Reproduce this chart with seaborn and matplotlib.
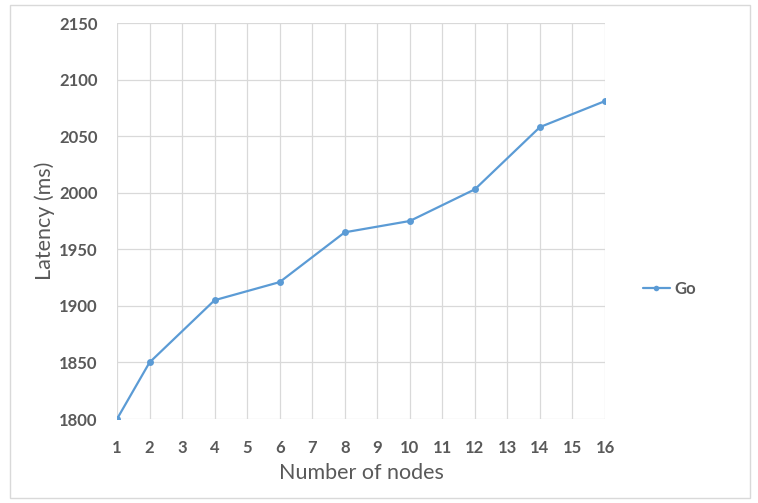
import matplotlib
matplotlib.use("Agg")
import matplotlib.pyplot as plt
import seaborn as sns
import pandas as pd
from matplotlib.patches import Rectangle
from matplotlib.lines import Line2D

nodes = [1, 2, 4, 6, 8, 10, 12, 14, 16]
latency = [1800, 1850, 1905, 1921, 1965, 1975, 2003, 2058, 2081]
x_ticks = list(range(1, 17))
y_ticks = [1800, 1850, 1900, 1950, 2000, 2050, 2100, 2150]
series_name = "Go"

sns.set_theme(style="white")
plt.rcParams["font.family"] = ["Lato", "DejaVu Sans"]

df = pd.DataFrame({"nodes": nodes, "latency": latency, "series": series_name})

fig = plt.figure(figsize=(7.58, 5.03), dpi=100)
ax = fig.add_axes([117 / 758, 1 - 419 / 503, (605 - 117) / 758, (419 - 23) / 503])

color = "#5B9BD5"
sns.lineplot(data=df, x="nodes", y="latency", ax=ax, color=color, marker="o",
             markersize=5, markeredgewidth=0, linewidth=1.6, legend=False)

ax.set_xlim(1, 16)
ax.set_ylim(1800, 2150)
ax.set_xticks(x_ticks)
ax.set_yticks(y_ticks)
ax.grid(True, color="#D9D9D9", linewidth=0.9)
ax.set_axisbelow(True)
for s in ax.spines.values():
    s.set_visible(False)
ax.tick_params(axis="both", length=0, labelsize=12, labelcolor="#595959")
ax.tick_params(axis="x", pad=15)
ax.tick_params(axis="y", pad=14)
for lab in ax.get_xticklabels() + ax.get_yticklabels():
    lab.set_fontweight("bold")
ax.set_xlabel("Number of nodes", fontsize=15.5, color="#595959", labelpad=5)
ax.set_ylabel("Latency (ms)", fontsize=15.5, color="#595959", labelpad=3)

handle = Line2D([], [], color=color, marker="o", markersize=4, markeredgewidth=0, linewidth=1.6)
leg = fig.legend([handle], [series_name], loc="center left",
                 bbox_to_anchor=(628 / 758, 1 - 289 / 503), frameon=False,
                 handlelength=1.6, handletextpad=0.3, prop={"size": 12, "weight": "bold"})
for t in leg.get_texts():
    t.set_color("#595959")

fig.patches.append(Rectangle((10 / 758, 5 / 503), 740 / 758, 493 / 503,
                             transform=fig.transFigure, fill=False,
                             edgecolor="#D9D9D9", linewidth=1))

fig.savefig("out.png", dpi=100, facecolor="white")
